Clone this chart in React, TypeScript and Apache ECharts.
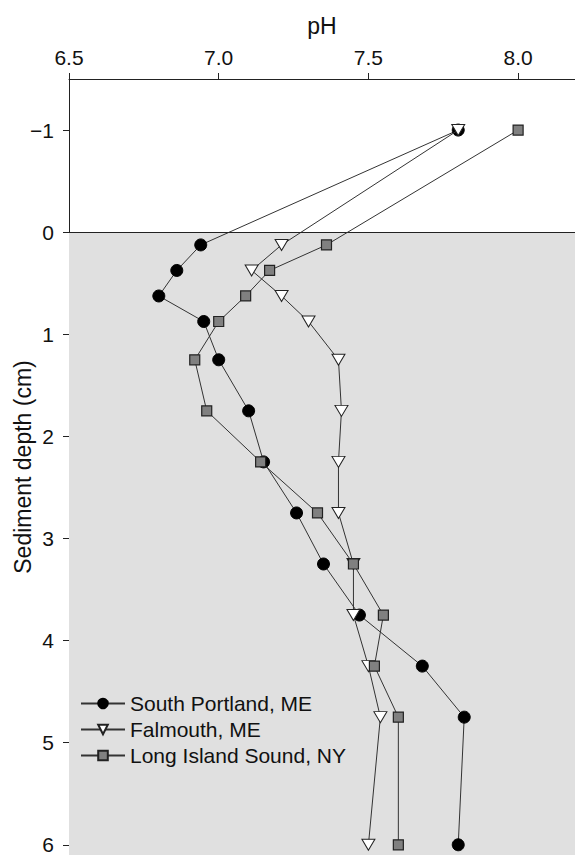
import React, { useEffect, useRef } from "react";
import * as echarts from "echarts";

const depths = [-1, 0.125, 0.375, 0.625, 0.875, 1.25, 1.75, 2.25, 2.75, 3.25, 3.75, 4.25, 4.75, 6];
const southPortland = [7.8, 6.94, 6.86, 6.8, 6.95, 7.0, 7.1, 7.15, 7.26, 7.35, 7.47, 7.68, 7.82, 7.8];
const falmouth = [7.8, 7.21, 7.11, 7.21, 7.3, 7.4, 7.41, 7.4, 7.4, 7.45, 7.45, 7.5, 7.54, 7.5];
const longIsland = [8.0, 7.36, 7.17, 7.09, 7.0, 6.92, 6.96, 7.14, 7.33, 7.45, 7.55, 7.52, 7.6, 7.6];
const seriesNames = ["South Portland, ME", "Falmouth, ME", "Long Island Sound, NY"];
const depthTicks = [-1, 0, 1, 2, 3, 4, 5, 6];
const phTicks = [6.5, 7.0, 7.5, 8.0];

const FONT = "Liberation Sans, Arial, Helvetica, sans-serif";

export default function App() {
  const ref = useRef<HTMLDivElement>(null);
  useEffect(() => {
    if (!ref.current) return;
    const chart = echarts.init(ref.current, undefined, { renderer: "svg" });
    const pair = (vals: number[]) => vals.map((v, i) => [v, depths[i]]);
    const lineStyle = { color: "#333", width: 1 };
    chart.setOption({
      animation: false,
      backgroundColor: "#fff",
      textStyle: { fontFamily: FONT },
      grid: { left: 69, top: 79, right: 0, bottom: 0, containLabel: false, outerBoundsMode: "none" },
      xAxis: {
        type: "value",
        position: "top",
        min: 6.5,
        max: 8.19,
        name: "pH",
        nameLocation: "middle",
        nameGap: 42,
        nameMoveOverlap: false,
        nameTextStyle: { fontSize: 23, color: "#111", fontFamily: FONT },
        axisLine: { show: true, onZero: false, lineStyle: { color: "#222", width: 1 } },
        axisTick: { show: true, inside: false, length: 6, customValues: phTicks, lineStyle: { color: "#222" } },
        axisLabel: {
          customValues: phTicks,
          fontSize: 21,
          color: "#111",
          margin: 11,
          fontFamily: FONT,
          formatter: (v: number) => v.toFixed(1),
        },
        splitLine: { show: false },
      },
      yAxis: {
        type: "value",
        inverse: true,
        min: -1.5,
        max: 6.1,
        name: "Sediment depth (cm)",
        nameLocation: "middle",
        nameGap: 35,
        nameMoveOverlap: false,
        nameRotate: 90,
        nameTextStyle: { fontSize: 23, color: "#111", fontFamily: FONT },
        axisLine: { show: true, onZero: false, lineStyle: { color: "#222", width: 1 } },
        axisTick: { show: true, inside: false, length: 6, customValues: depthTicks, lineStyle: { color: "#222" } },
        axisLabel: {
          customValues: depthTicks,
          fontSize: 21,
          color: "#111",
          margin: 15,
          fontFamily: FONT,
          formatter: (v: number) => String(v).replace("-", "\u2212"),
        },
        splitLine: { show: false },
      },
      legend: {
        data: seriesNames,
        orient: "vertical",
        left: 75,
        top: 688,
        itemWidth: 44,
        itemHeight: 12,
        itemGap: 5,
        textStyle: { fontSize: 21, color: "#111", fontFamily: FONT },
      },
      series: [
        {
          type: "line",
          name: "bg",
          data: [],
          z: 0,
          silent: true,
          markArea: {
            silent: true,
            itemStyle: { color: "#e0e0e0" },
            data: [[{ yAxis: 0 }, { yAxis: 6.1 }]],
          },
          markLine: {
            silent: true,
            symbol: "none",
            label: { show: false },
            lineStyle: { color: "#222", width: 1, type: "solid" },
            data: [{ yAxis: 0 }],
          },
        },
        {
          type: "line",
          name: seriesNames[0],
          data: pair(southPortland),
          symbol: "circle",
          symbolSize: 12,
          lineStyle,
          itemStyle: { color: "#000", borderColor: "#000", borderWidth: 1 },
          z: 3,
        },
        {
          type: "line",
          name: seriesNames[1],
          data: pair(falmouth),
          symbol: "triangle",
          symbolRotate: 180,
          symbolSize: [13, 11],
          lineStyle,
          itemStyle: { color: "#fff", borderColor: "#222", borderWidth: 1 },
          z: 4,
        },
        {
          type: "line",
          name: seriesNames[2],
          data: pair(longIsland),
          symbol: "rect",
          symbolSize: 10,
          lineStyle,
          itemStyle: { color: "#808080", borderColor: "#222", borderWidth: 1.2 },
          z: 5,
        },
      ],
    });
    return () => chart.dispose();
  }, []);
  return (
    <div
      ref={ref}
      style={{ position: "absolute", left: 0, top: 0, width: 575, height: 855 }}
    />
  );
}
